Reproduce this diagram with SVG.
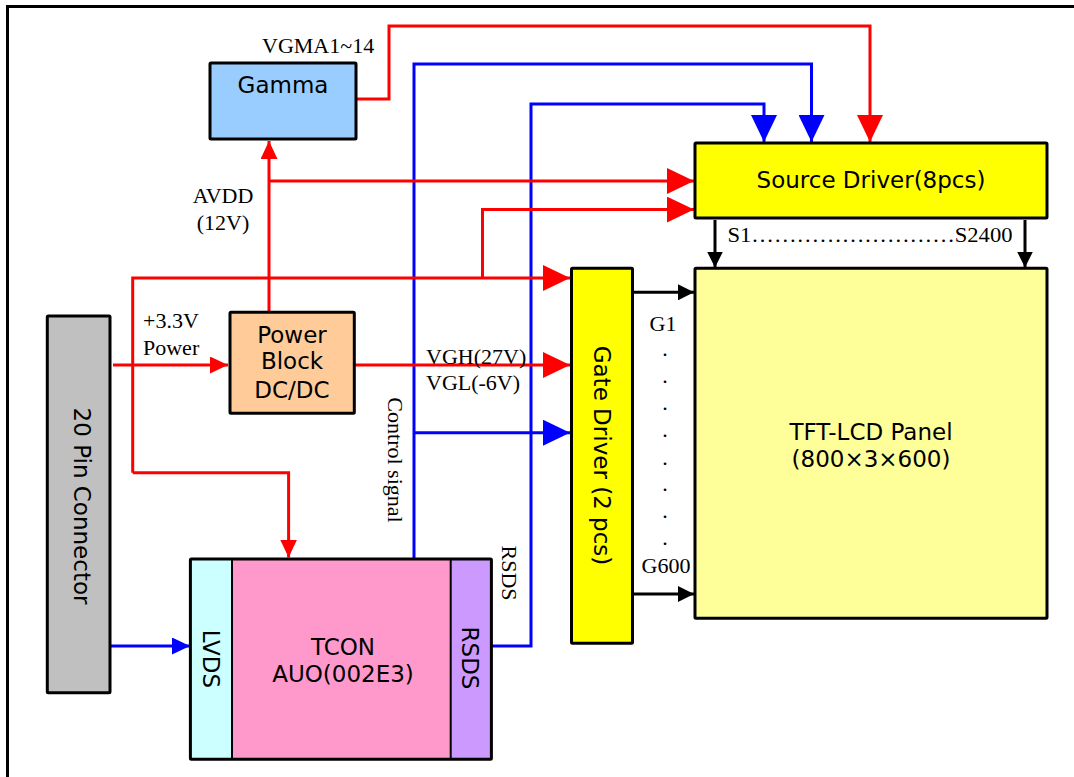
<svg xmlns="http://www.w3.org/2000/svg" width="1074" height="777" viewBox="0 0 1074 777">
<style>
.box{stroke:#000;stroke-width:3}
.sans{font-family:"DejaVu Sans",Verdana,sans-serif;font-size:23px;fill:#000}
.serif{font-family:"Liberation Serif","Times New Roman",serif;font-size:22px;fill:#000}
.mid{text-anchor:middle}
.r{fill:none;stroke:#FF0000;stroke-width:3}
.b{fill:none;stroke:#0000FF;stroke-width:3}
.k{fill:none;stroke:#000;stroke-width:3}
</style>
<defs>
<marker id="bigR" markerUnits="userSpaceOnUse" markerWidth="27" markerHeight="26" refX="27" refY="13" orient="auto"><path d="M0,0 L27,13 L0,26 Z" fill="#FF0000"/></marker>
<marker id="bigB" markerUnits="userSpaceOnUse" markerWidth="27" markerHeight="26" refX="27" refY="13" orient="auto"><path d="M0,0 L27,13 L0,26 Z" fill="#0000FF"/></marker>
<marker id="smR" markerUnits="userSpaceOnUse" markerWidth="18" markerHeight="17" refX="18" refY="8.5" orient="auto"><path d="M0,0 L18,8.5 L0,17 Z" fill="#FF0000"/></marker>
<marker id="smB" markerUnits="userSpaceOnUse" markerWidth="18" markerHeight="17" refX="18" refY="8.5" orient="auto"><path d="M0,0 L18,8.5 L0,17 Z" fill="#0000FF"/></marker>
<marker id="smK" markerUnits="userSpaceOnUse" markerWidth="16" markerHeight="16" refX="16" refY="8" orient="auto"><path d="M0,0 L16,8 L0,16 Z" fill="#000"/></marker>
</defs>
<rect width="1074" height="777" fill="#fff"/>
<path d="M7.5,790 V6.5 H1090" fill="none" stroke="#000" stroke-width="3"/>

<g id="connectors">
<path class="r" d="M356,99 H389 V26 H870 V142" marker-end="url(#bigR)"/>
<path class="b" d="M414,559 V64 H811.5 V142" marker-end="url(#bigB)"/>
<path class="b" d="M414,432.7 H570" marker-end="url(#bigB)"/>
<path class="b" d="M491,646 H531 V104 H764 V142" marker-end="url(#bigB)"/>
<path class="r" d="M269,312 V141" marker-end="url(#smR)"/>
<path class="r" d="M269,181 H694" marker-end="url(#bigR)"/>
<path class="r" d="M354,365 H570" marker-end="url(#bigR)"/>
<path class="r" d="M113,365 H228" marker-end="url(#smR)"/>
<path class="r" d="M132.7,472.7 V278 H570" marker-end="url(#bigR)"/>
<path class="r" d="M482.5,278 V209.6 H694" marker-end="url(#bigR)"/>
<path class="r" d="M132.7,472.7 H288.6 V557.5" marker-end="url(#smR)"/>
<path class="b" d="M110,646 H190" marker-end="url(#smB)"/>
<path class="k" d="M715,220 V267.5" marker-end="url(#smK)"/>
<path class="k" d="M1025,220 V267.5" marker-end="url(#smK)"/>
<path class="k" d="M633,292.3 H694" marker-end="url(#smK)"/>
<path class="k" d="M633,594 H694" marker-end="url(#smK)"/>
</g>

<g id="gamma">
<rect class="box" x="210" y="63" width="146" height="76" fill="#99CCFF" rx="1"/>
<text class="sans mid" x="283" y="93">Gamma</text>
</g>
<g id="source-driver">
<rect class="box" x="695" y="143" width="352" height="75" fill="#FFFF00" rx="1"/>
<text class="sans mid" x="871" y="188">Source Driver(8pcs)</text>
</g>
<g id="panel">
<rect class="box" x="695" y="268.3" width="352" height="350" fill="#FFFF99" rx="1"/>
<text class="sans mid" x="871" y="440">TFT-LCD Panel</text>
<text class="sans mid" x="871" y="467">(800×3×600)</text>
</g>
<g id="gate-driver">
<rect class="box" x="571.5" y="268.3" width="61" height="375" fill="#FFFF00" rx="1"/>
<text class="sans mid" transform="translate(594,455.5) rotate(90)">Gate Driver (2 pcs)</text>
</g>
<g id="power-block">
<rect class="box" x="230" y="312.3" width="124.3" height="101" fill="#FFCC99" rx="1"/>
<text class="sans mid" x="292" y="343">Power</text>
<text class="sans mid" x="292" y="369">Block</text>
<text class="sans mid" x="292" y="398">DC/DC</text>
</g>
<g id="connector20">
<rect class="box" x="47.3" y="316" width="62.7" height="376.7" fill="#C0C0C0" rx="1"/>
<text class="sans mid" transform="translate(73.5,506) rotate(90)">20 Pin Connector</text>
</g>
<g id="tcon">
<rect x="190.4" y="559" width="301" height="200.3" fill="#FF99CC" rx="1"/>
<rect x="190.4" y="559" width="41.6" height="200.3" fill="#CCFFFF"/>
<rect x="450.7" y="559" width="40.7" height="200.3" fill="#CC99FF"/>
<path d="M232,559 V759.3 M450.7,559 V759.3" stroke="#000" stroke-width="2"/>
<rect x="190.4" y="559" width="301" height="200.3" fill="none" stroke="#000" stroke-width="3" rx="1"/>
<text class="sans mid" x="343" y="655">TCON</text>
<text class="sans mid" x="343" y="682">AUO(002E3)</text>
<text class="sans mid" transform="translate(203,659) rotate(90)">LVDS</text>
<text class="sans mid" transform="translate(461.5,658) rotate(90)">RSDS</text>
</g>

<g id="labels">
<text class="serif" x="262" y="53">VGMA1~14</text>
<text class="serif mid" x="223" y="203">AVDD</text>
<text class="serif mid" x="223" y="230">(12V)</text>
<text class="serif" x="143" y="328">+3.3V</text>
<text class="serif" x="143" y="355">Power</text>
<text class="serif" x="426" y="364">VGH(27V)</text>
<text class="serif" x="426" y="390">VGL(-6V)</text>
<text class="serif" x="727.5" y="242" textLength="285" lengthAdjust="spacingAndGlyphs">S1………………………S2400</text>
<text class="serif mid" x="663" y="331">G1</text>
<text class="serif mid" x="666" y="573">G600</text>
<text class="serif mid" x="665"><tspan x="665" y="356">.</tspan><tspan x="665" y="383">.</tspan><tspan x="665" y="410">.</tspan><tspan x="665" y="437">.</tspan><tspan x="665" y="465">.</tspan><tspan x="665" y="491">.</tspan><tspan x="665" y="518">.</tspan><tspan x="665" y="545">.</tspan></text>
<text class="serif mid" transform="translate(388,460) rotate(90)">Control signal</text>
<text class="serif mid" transform="translate(502,573) rotate(90)">RSDS</text>
</g>
</svg>
